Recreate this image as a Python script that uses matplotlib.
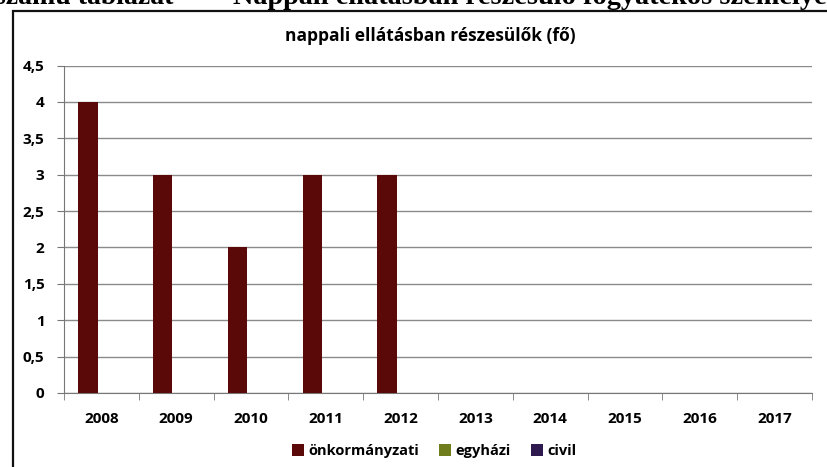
import matplotlib
matplotlib.use("Agg")
import matplotlib.pyplot as plt
import numpy as np
from matplotlib.patches import Rectangle

years = ['2008', '2009', '2010', '2011', '2012', '2013', '2014', '2015', '2016', '2017']
onkormanyzati = [4, 3, 2, 3, 3, 0, 0, 0, 0, 0]
egyhazi = [0, 0, 0, 0, 0, 0, 0, 0, 0, 0]
civil = [0, 0, 0, 0, 0, 0, 0, 0, 0, 0]
y_ticks = [0, 0.5, 1, 1.5, 2, 2.5, 3, 3.5, 4, 4.5]
y_labels = ['0', '0,5', '1', '1,5', '2', '2,5', '3', '3,5', '4', '4,5']

fig = plt.figure(figsize=(8.28, 4.67), dpi=100)
fig.patch.set_facecolor('white')

# cut-off heading of the scanned page (only its lower part shows)
base = 1 - 4 / 467
fig.text(190 / 828, base, "számú táblázat -", fontsize=20, fontweight='bold',
         family='Liberation Serif', ha='right', va='baseline')
fig.text(233 / 828, base, "Nappali ellátásban részesülő fogyatékos személyek",
         fontsize=20.3, fontweight='bold', family='Liberation Serif', ha='left', va='baseline')

# chart frame
fig.patches.append(Rectangle((13 / 828, -0.05), 1.0, 1 - 11 / 467 + 0.05, transform=fig.transFigure,
                             fill=False, edgecolor='#111111', linewidth=1.6))

ax = fig.add_axes([64 / 828, 1 - 393 / 467, (812 - 64) / 828, (393 - 65.5) / 467])
x = np.arange(len(years))
w = 0.26
ax.bar(x - 0.18, onkormanyzati, w, color='#5a0808', label='önkormányzati', zorder=3)
ax.bar(x + 0.08, egyhazi, w, color='#6f7d1c', label='egyházi', zorder=3)
ax.bar(x + 0.34, civil, w, color='#2e1a4e', label='civil', zorder=3)

ax.set_xlim(-0.5, len(years) - 0.5)
ax.set_ylim(0, 4.5)
ax.set_yticks(y_ticks)
ax.set_yticklabels(y_labels)
ax.set_xticks(x)
ax.set_xticklabels(years)
ax.set_xticks(np.arange(-0.5, len(years)), minor=True)
ax.tick_params(axis='x', which='major', length=0, pad=14)
ax.tick_params(axis='x', which='minor', length=5, color='#777777')
ax.tick_params(axis='y', length=5, color='#777777', pad=9)
for lab in ax.get_xticklabels() + ax.get_yticklabels():
    lab.set_fontsize(11)
    lab.set_fontweight('bold')
    lab.set_family('Open Sans')

ax.grid(axis='y', color='#8a8a8a', linewidth=1.0, zorder=0)
for s in ['top', 'right']:
    ax.spines[s].set_visible(False)
ax.spines['left'].set_color('#777777')
ax.spines['bottom'].set_color('#777777')

fig.text(430 / 828, 1 - 36 / 467, 'nappali ellátásban részesülők (fő)', ha='center', va='center',
         fontsize=12.5, fontweight='bold', family='Open Sans')

fig.legend(loc='center', bbox_to_anchor=(434 / 828, 1 - 451 / 467), ncol=3, frameon=False,
           prop={'family': 'Open Sans', 'weight': 'bold', 'size': 10.5},
           handlelength=0.8, handleheight=0.8, handletextpad=0.3, columnspacing=1.4)

fig.savefig('out.png', dpi=100)
